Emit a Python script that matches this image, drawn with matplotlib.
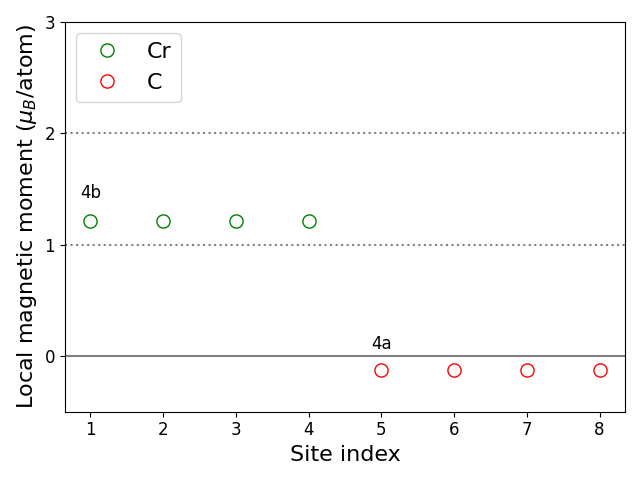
import numpy as np
import matplotlib.pyplot as plt

cr_sites = [1, 2, 3, 4]
cr_moments = [1.21, 1.21, 1.21, 1.21]
c_sites = [5, 6, 7, 8]
c_moments = [-0.126, -0.126, -0.126, -0.126]

fig, ax = plt.subplots(figsize=(6.4, 4.8), dpi=100)

ax.axhline(0, color='gray', lw=1.5)
ax.axhline(1, color='gray', ls=':', lw=1.5)
ax.axhline(2, color='gray', ls=':', lw=1.5)

ax.plot(cr_sites, cr_moments, 'o', mfc='none', mec='green', ms=9.5, label='Cr')
ax.plot(c_sites, c_moments, 'o', mfc='none', mec='red', ms=9.5, label='C')

ax.text(1, 1.415, '4b', ha='center', fontsize=12)
ax.text(5, 0.065, '4a', ha='center', fontsize=12)

ax.set_ylim(-0.5, 3)
ax.set_yticks([0, 1, 2, 3])
ax.set_xticks(range(1, 9))
ax.tick_params(labelsize=12)
ax.set_xlabel('Site index', fontsize=16)
ax.set_ylabel(r'Local magnetic moment ($\mu_B$/atom)', fontsize=16)
ax.legend(fontsize=16, loc='upper left')

plt.tight_layout()
plt.savefig('out.png')
